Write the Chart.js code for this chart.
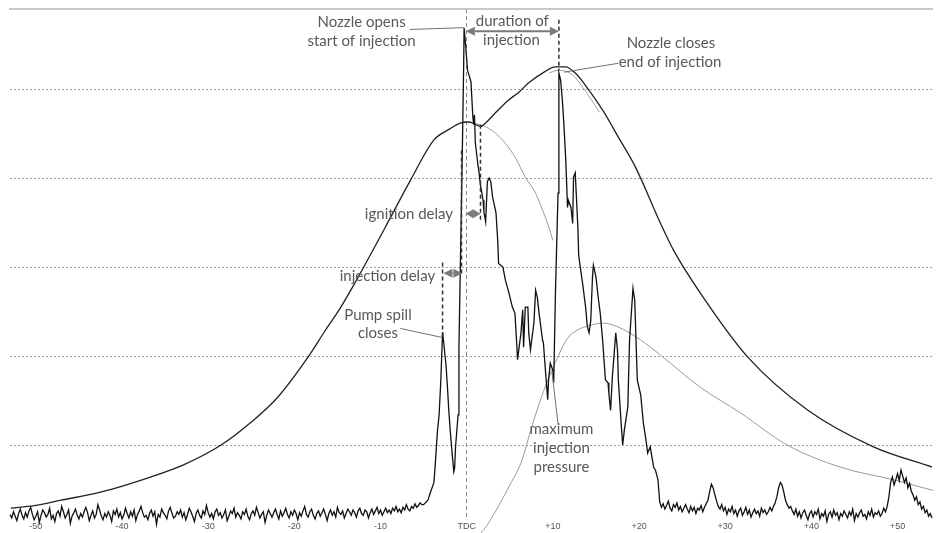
<!DOCTYPE html>
<html><head><meta charset="utf-8">
<script src="https://cdn.jsdelivr.net/npm/chart.js@4/dist/chart.umd.min.js"></script>
<style>html,body{margin:0;padding:0;background:#fff;}#wrap{width:940px;height:533px;position:relative;}</style>
</head><body><div id="wrap"><canvas id="c"></canvas></div>
<script>
// ---- axis definitions ----
const xTicks = [-50,-40,-30,-20,-10,0,10,20,30,40,50];
const xTickLabels = ['-50','-40','-30','-20','-10','TDC','+10','+20','+30','+40','+50'];
const gridValues = [100,200,300,400,500];

// ---- cylinder pressure (firing) ----
const cylAngles = [-52.9,-50.2,-47.1,-42.5,-36.7,-32.8,-28.5,-25.1,-21.9,-18.4,-16.4,-14.6,-13.1,-9.6,-6.5,-3.8,-2.0,-0.7,0.2,0.9,1.6,2.2,3.4,4.9,6.0,7.2,8.8,10.3,11.5,12.6,13.8,15.8,17.6,19.6,22.5,24.0,27.1,32.6,39.6,47.2,54.1];
const cylPressure = [29,32,38,47,64,78,100,125,154,199,229,255,280,342,398,443,455,462,463,461,458,462,474,488,496,507,518,525,525,518,504,476,446,412,349,319,271,199,139,98,75];

// ---- second (grey) pressure trace near the peak ----
const cyl2Angles = [9.6,10.5,11.5,12.5,13.4,14.4,15.4];
const cyl2Pressure = [518,521,520,514,503,489,474];

// ---- motoring pressure continuation (grey) ----
const motAngles = [0.9,1.6,3.0,4.5,5.7,6.8,8.0,8.8,9.5,10.0];
const motPressure = [461,460,453,439,422,401,383,364,346,330];

// ---- rate curve (grey) ----
const hrAngles = [1.4,2.5,3.9,5.0,6.3,7.6,8.9,10.3,11.7,12.8,13.8,15.8,17.5,20.2,22.5,27.1,31.8,37.2,43.4,49.5,54.1];
const hrValues = [-2,12,35,55,80,122,160,193,220,229,233,237,233,218,201,165,136,100,75,61,49];

// ---- injection line pressure trace ----
const injLeftStart = -53.0, injLeftStep = 0.2;
const injLeftNoise = [
22,18,25,20,15,23,28,21,17,24,19,26,30,22,16,20,25,13,21,27,
24,19,22,29,17,21,14,23,26,20,31,25,18,22,27,12,20,24,28,21,
17,23,19,25,30,24,15,21,26,18,22,33,27,20,16,23,19,25,21,14,
26,22,28,19,24,17,21,29,23,18,25,20,27,15,22,26,31,24,19,21,
16,23,27,20,25,11,22,19,28,24,21,17,26,30,23,18,20,25,22,27,
19,24,16,22,29,25,20,14,23,27,21,18,26,22,32,24,19,23,17,25,
28,21,24,18,22,27,15,20,26,23,29,19,24,21,17,25,22,28,20,16,
23,26,21,30,24,18,22,25,13,21,27,23,19,24,28,22,17,26,20,24,
29,22,18,25,21,27,23,16,24,20,26,31,22,19,25,28,21,17,23,26,
20,24,28,22,15,23,27,21,25,19,30,24,22,26,18,23,28,25,21,27,
24,19,26,29,23,21,27,25,18,24,28,22,26,30,23,27,21,25,29,24,
27,23,29,26,31,25,28,24,30,27,33,28,26,31,29,34,30,32,35,33];
const injMain = [
[-5.0,33],[-4.5,38],[-4.2,47],[-3.8,58],[-3.6,85],[-3.4,115],[-3.2,134],[-3.0,173],[-2.8,227],[-2.7,218],[-2.4,190],[-2.2,160],[-2.1,142],[-1.9,115],[-1.6,81],[-1.5,70],[-1.4,74],[-1.3,97],[-1.0,134],[-0.9,209],[-0.7,321],[-0.5,434],[-0.35,527],[-0.3,569],[-0.1,546],[0.1,521],[0.2,518],[0.5,508],[0.7,471],[0.8,460],[0.9,471],[1.0,440],[1.3,415],[1.4,409],[1.6,392],[1.9,375],[2.0,362],[2.2,351],[2.4,396],[2.6,400],[2.8,396],[3.0,379],[3.4,361],[3.6,330],[3.7,304],[4.2,300],[4.5,285],[4.9,271],[5.3,255],[5.6,248],[5.8,215],[5.9,196],[6.3,226],[6.5,252],[6.6,210],[6.8,255],[7.1,255],[7.2,226],[7.4,207],[7.8,237],[8.0,274],[8.2,266],[8.4,248],[8.6,233],[8.8,218],[8.9,215],[9.2,176],[9.4,151],[9.5,173],[9.7,192],[10.0,184],[10.1,170],[10.3,271],[10.6,383],[10.7,518],[10.9,510],[11.1,488],[11.3,457],[11.5,420],[11.7,367],[11.8,375],[12.1,367],[12.3,349],[12.4,401],[12.6,406],[12.9,345],[13.0,313],[13.5,278],[13.8,255],[14.0,233],[14.2,226],[14.4,240],[14.6,289],[14.7,302],[15.0,289],[15.3,263],[15.5,248],[15.8,215],[16.1,173],[16.4,170],[16.5,158],[16.7,139],[16.9,176],[17.3,226],[17.5,207],[17.6,173],[17.9,128],[18.1,100],[18.3,117],[18.7,143],[18.9,218],[19.3,276],[19.5,263],[19.8,173],[20.2,156],[20.5,125],[20.8,106],[21.0,91],[21.3,98],[21.7,75],[21.9,72],[22.2,61]];
const injTailStart = 22.4, injTailStep = 0.2;
const injTailNoise = [
36,30,34,28,32,37,29,26,33,30,35,27,31,25,29,33,
28,24,31,26,30,23,29,27,32,25,30,34,38,
48,56,52,44,37,31,28,
33,26,30,22,28,25,31,23,27,20,26,29,21,25,30,22,27,19,24,28,23,26,20,29,24,27,22,25,30,26,31,35,
42,52,58,55,47,38,33,29,31,
26,22,28,20,25,18,24,27,21,16,23,26,19,25,22,28,17,23,20,26,14,22,25,19,27,21,24,16,23,20,26,22,18,25,21,28,15,23,19,24,27,20,22,17,25,21,28,19,24,22,26,20,23,29,25,31,
42,58,64,55,61,68,60,72,65,58,63,52,57,48,44,38,42,33,36,28,31,24,27,20,23,18];

// ---- annotations (in data coordinates) ----
const noteTexts = [
 ['Nozzle opens',-12.2,575],['start of injection',-12.2,554],
 ['duration of',5.3,576],['injection',5.2,555],
 ['Nozzle closes',23.7,552],['end of injection',23.6,530],
 ['ignition delay',-6.7,360],
 ['injection delay',-9.2,290],
 ['Pump spill',-10.3,246],['closes',-10.3,226],
 ['maximum',11.0,118],['injection',11.0,97],['pressure',11.0,75]];
const leaderLines = [[-6.6,567,-0.35,569],[17.6,529,11.3,519],[-7.7,231,-2.9,221],[10.6,124,9.9,182]];
const dashedMarks = [[10.7,578,521],[1.6,460,351],[-2.8,305,222],[-0.6,431,291]];
const arrowMarks = [[-0.1,10.7,565],[-0.1,1.6,360],[-2.7,-0.5,293]];

// ---- build datasets ----
const zip = (a,b)=>a.map((v,i)=>({x:v,y:b[i]}));
const injData = [];
injLeftNoise.forEach((v,i)=>injData.push({x:+(injLeftStart+i*injLeftStep).toFixed(2),y:v}));
injMain.forEach(p=>injData.push({x:p[0],y:p[1]}));
injTailNoise.forEach((v,i)=>injData.push({x:+(injTailStart+i*injTailStep).toFixed(2),y:v}));

const annotPlugin = {
  id:'annot',
  afterDatasetsDraw(chart){
    const {ctx, scales:{x,y}} = chart;
    const X=v=>x.getPixelForValue(v), Y=v=>y.getPixelForValue(v);
    ctx.save();
    ctx.strokeStyle='#707070'; ctx.lineWidth=1; ctx.setLineDash([]);
    leaderLines.forEach(l=>{ctx.beginPath();ctx.moveTo(X(l[0]),Y(l[1]));ctx.lineTo(X(l[2]),Y(l[3]));ctx.stroke();});
    ctx.strokeStyle='#333'; ctx.lineWidth=1.5; ctx.setLineDash([4,3]);
    dashedMarks.forEach(d=>{ctx.beginPath();ctx.moveTo(X(d[0]),Y(d[1]));ctx.lineTo(X(d[0]),Y(d[2]));ctx.stroke();});
    ctx.setLineDash([]);
    ctx.strokeStyle='#7a7a7a'; ctx.fillStyle='#7a7a7a'; ctx.lineWidth=2;
    arrowMarks.forEach(a=>{
      const x1=X(a[0]), x2=X(a[1]), yy=Y(a[2]); const h=Math.min(9,(x2-x1)/2), w=4.5;
      ctx.beginPath();ctx.moveTo(x1+h,yy);ctx.lineTo(x2-h,yy);ctx.stroke();
      ctx.beginPath();ctx.moveTo(x1,yy);ctx.lineTo(x1+h,yy-w);ctx.lineTo(x1+h,yy+w);ctx.closePath();ctx.fill();
      ctx.beginPath();ctx.moveTo(x2,yy);ctx.lineTo(x2-h,yy-w);ctx.lineTo(x2-h,yy+w);ctx.closePath();ctx.fill();
    });
    ctx.fillStyle='#595959'; ctx.font='15px Lato'; ctx.textAlign='center'; ctx.textBaseline='middle';
    noteTexts.forEach(t=>ctx.fillText(t[0],X(t[1]),Y(t[2])));
    ctx.restore();
  }
};

new Chart(document.getElementById('c'), {
  type:'line',
  data:{datasets:[
    {label:'Injection line pressure', data:injData, borderColor:'#111', borderWidth:1.3, tension:0, clip:false},
    {label:'Cylinder pressure', data:zip(cylAngles,cylPressure), borderColor:'#222', borderWidth:1.3, cubicInterpolationMode:'monotone'},
    {label:'Cylinder pressure 2', data:zip(cyl2Angles,cyl2Pressure), borderColor:'#a0a0a0', borderWidth:1, cubicInterpolationMode:'monotone'},
    {label:'Motoring pressure', data:zip(motAngles,motPressure), borderColor:'#9a9a9a', borderWidth:1, cubicInterpolationMode:'monotone'},
    {label:'Rate', data:zip(hrAngles,hrValues), borderColor:'#9a9a9a', borderWidth:1, cubicInterpolationMode:'monotone', clip:false}
  ]},
  options:{
    responsive:true, maintainAspectRatio:false, animation:false,
    layout:{padding:{left:10,right:8,top:9,bottom:0}},
    elements:{point:{radius:0}},
    plugins:{legend:{display:false}, tooltip:{enabled:false}},
    scales:{
      x:{type:'linear', min:-53, max:54,
        afterBuildTicks:s=>{s.ticks=xTicks.map(v=>({value:v}));},
        afterFit:s=>{s.height=15;},
        ticks:{callback:v=>xTickLabels[xTicks.indexOf(v)], color:'#555', font:{family:'Liberation Sans',size:9}, padding:3, maxRotation:0, autoSkip:false},
        grid:{color:c=>(c.tick&&c.tick.value===0)?'#8a8a8a':'rgba(0,0,0,0)', lineWidth:1, drawTicks:false},
        border:{display:false, dash:[4,3]}},
      xTop:{type:'linear', position:'top', min:-53, max:54,
        afterFit:s=>{s.height=0;},
        ticks:{display:false}, grid:{display:false, drawTicks:false},
        border:{display:true, color:'#c8c8c8', width:2}},
      y:{min:18, max:590,
        afterBuildTicks:s=>{s.ticks=gridValues.map(v=>({value:v}));},
        ticks:{display:false}, grid:{color:'#9c9c9c', lineWidth:1, drawTicks:false},
        border:{display:false, dash:[2,2]}}
    }
  },
  plugins:[annotPlugin]
});
</script></body></html>
